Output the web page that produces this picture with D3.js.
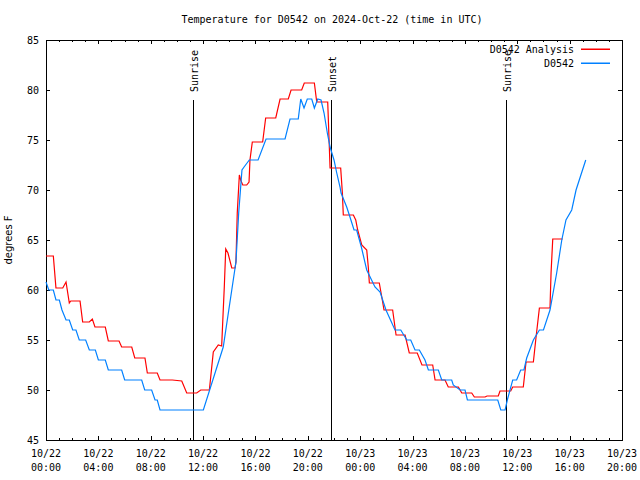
<!DOCTYPE html>
<html><head><meta charset="utf-8">
<script src="https://cdn.jsdelivr.net/npm/d3@7"></script>
<style>
body{margin:0;background:#fff;}
text{font-family:"DejaVu Sans Mono","Liberation Mono",monospace;font-size:10px;fill:#000;}
</style></head>
<body><svg id="c" width="640" height="480"></svg>
<script>
// hours since 2024-10-22 00:00 UTC
const analysisHours = [0,0.56,0.76,1.28,1.53,1.78,1.89,2.60,2.80,3.31,3.54,3.74,4.53,4.76,5.58,5.78,6.55,6.78,7.56,7.74,8.50,8.71,9.65,10.37,10.75,11.51,11.82,12.48,12.78,13.16,13.42,13.54,13.62,13.73,13.90,14.19,14.44,14.51,14.61,14.77,14.87,15.03,15.33,15.51,15.58,15.76,16.55,16.78,17.55,17.88,18.51,18.72,19.53,19.73,20.50,20.68,21.52,21.70,22.51,22.64,22.71,23.48,23.66,23.81,24.12,24.50,24.62,24.70,25.46,25.69,25.82,26.48,26.74,27.43,27.75,28.36,28.72,29.54,29.72,30.48,30.73,31.50,31.76,32.52,32.72,33.54,33.69,34.55,34.68,35.50,35.65,36.46,36.67,37.23,37.41,37.69,38.50,38.58,38.71,39.47];
const analysisTemps = [63.4,63.4,60.2,60.2,60.8,58.7,58.9,58.9,56.8,56.8,57.1,56.3,56.3,54.9,54.9,54.3,54.3,53.2,53.2,51.7,51.7,51.0,51.0,50.9,49.7,49.7,50.0,50.0,53.8,54.5,54.4,58.0,60.3,64.1,63.7,62.2,62.2,62.8,67.7,71.5,71.0,70.5,70.5,70.8,73.0,74.8,74.8,77.2,77.2,79.1,79.1,80.0,80.0,80.7,80.7,78.8,78.8,72.2,72.2,69.7,67.5,67.5,67.0,66.0,64.5,64.0,62.3,60.7,60.7,59.0,58.0,58.0,55.5,55.5,53.7,53.7,52.5,52.5,51.0,51.0,50.3,50.3,49.7,49.7,49.3,49.3,49.4,49.4,49.9,49.9,50.3,50.3,52.8,52.8,55.0,58.2,58.2,61.7,65.1,65.1];

const stationHours = [0,0.21,0.56,0.76,1.02,1.22,1.53,1.78,2.04,2.29,2.54,3.03,3.31,3.77,4.00,4.53,4.76,5.78,6.01,7.31,7.54,8.07,8.33,8.50,8.71,12.02,13.54,14.51,14.72,14.97,15.13,15.53,16.20,16.81,18.26,18.64,19.27,19.46,19.71,19.96,20.30,20.50,20.76,21.01,21.24,21.49,21.70,22.00,22.21,22.46,22.54,22.97,23.22,23.53,23.73,24.09,24.50,25.13,25.52,25.97,26.66,27.10,27.56,27.86,28.19,28.52,28.95,29.21,29.97,30.23,30.99,31.11,31.63,32.01,32.19,34.51,34.74,35.07,35.24,35.65,35.95,36.26,36.51,36.72,37.23,37.69,38.00,38.50,39.01,39.40,39.72,40.16,40.49,41.23];
const stationTemps = [60.8,60.0,60.0,59.0,59.0,58.0,57.0,57.0,56.0,56.0,55.0,55.0,54.0,54.0,53.0,53.0,52.0,52.0,51.0,51.0,50.0,50.0,49.0,49.0,48.0,48.0,54.3,62.8,67.7,72.0,72.3,73.0,73.0,75.1,75.1,77.1,77.1,79.1,78.2,79.1,79.1,78.2,79.1,79.0,77.7,75.7,74.3,73.0,71.7,70.3,69.7,68.3,67.3,66.0,66.0,64.3,62.0,60.3,59.8,58.0,56.0,56.0,55.0,55.0,54.0,54.0,53.0,52.0,52.0,51.0,51.0,50.5,50.0,50.0,49.0,49.0,48.0,48.0,49.0,51.0,51.0,52.0,52.0,53.2,55.0,56.0,56.0,58.0,61.7,65.0,67.0,68.0,70.0,73.0];

const eventHours = [11.23, 21.77, 35.14];
const eventLabels = ["Sunrise", "Sunset", "Sunrise"];
const seriesNames = ["D0542 Analysis", "D0542"];
const seriesColors = ["#ff0000", "#0080ff"];
const yTicks = [45,50,55,60,65,70,75,80,85];
const titleText = "Temperature for D0542 on 2024-Oct-22 (time in UTC)";
const yLabel = "degrees F";

const t0 = Date.UTC(2024, 9, 22, 0, 0);
const toDate = h => new Date(t0 + h * 3600000);

const L = 46, R = 622, T = 40, B = 440;
const svg = d3.select("#c");
const x = d3.scaleUtc().domain([toDate(0), toDate(44)]).range([L, R]);
const y = d3.scaleLinear().domain([45, 85]).range([B, T]);

const g = svg.append("g").attr("shape-rendering", "crispEdges");

// ticks
const major = d3.utcHour.every(4).range(toDate(0), toDate(44.01));
const minor = d3.utcHour.every(1).range(toDate(0), toDate(44.01));
minor.forEach(d => {
  const isMajor = d.getUTCHours() % 4 === 0;
  const len = isMajor ? 4 : 2;
  const xx = Math.round(x(d)) + 0.5;
  g.append("line").attr("x1", xx).attr("x2", xx).attr("y1", B).attr("y2", B - len).attr("stroke", "#000");
  g.append("line").attr("x1", xx).attr("x2", xx).attr("y1", T).attr("y2", T + len).attr("stroke", "#000");
});
yTicks.forEach(v => {
  const yy = Math.round(y(v)) + 0.5;
  g.append("line").attr("x1", L).attr("x2", L + 4).attr("y1", yy).attr("y2", yy).attr("stroke", "#000");
  g.append("line").attr("x1", R).attr("x2", R - 4).attr("y1", yy).attr("y2", yy).attr("stroke", "#000");
  svg.append("text").attr("x", 39).attr("y", y(v) + 4).attr("text-anchor", "end").text(v);
});
const fDay = d3.utcFormat("%m/%d"), fTime = d3.utcFormat("%H:%M");
major.forEach(d => {
  const t = svg.append("text").attr("x", x(d)).attr("y", 457).attr("text-anchor", "middle");
  t.append("tspan").attr("x", x(d)).text(fDay(d));
  t.append("tspan").attr("x", x(d)).attr("dy", 14).text(fTime(d));
});

// event lines
eventHours.forEach((h, i) => {
  const xx = Math.round(x(toDate(h))) + 0.5;
  g.append("line").attr("x1", xx).attr("x2", xx).attr("y1", 100).attr("y2", B).attr("stroke", "#000");
  svg.append("text").attr("transform", `translate(${xx + 4},92) rotate(-90)`).attr("text-anchor", "start").text(eventLabels[i]);
});

// series
const line = d3.line().x(d => x(d[0])).y(d => y(d[1]));
const aData = analysisHours.map((h, i) => [toDate(h), analysisTemps[i]]);
const sData = stationHours.map((h, i) => [toDate(h), stationTemps[i]]);
svg.append("path").datum(aData).attr("d", line).attr("fill", "none").attr("stroke", seriesColors[0]).attr("stroke-width", 1.2);
svg.append("path").datum(sData).attr("d", line).attr("fill", "none").attr("stroke", seriesColors[1]).attr("stroke-width", 1.2);

// border
g.append("rect").attr("x", L + 0.5).attr("y", T + 0.5).attr("width", R - L).attr("height", B - T).attr("fill", "none").attr("stroke", "#000");

// legend
seriesNames.forEach((n, i) => {
  const ly = 49 + i * 14;
  svg.append("text").attr("x", 574).attr("y", ly + 4).attr("text-anchor", "end").text(n);
  svg.append("rect").attr("x", 581).attr("y", ly - 0.5).attr("width", 29).attr("height", 1.5)
    .attr("fill", seriesColors[i]).attr("stroke", "none");
});

// title and y label
svg.append("text").attr("x", 332).attr("y", 23).attr("text-anchor", "middle").text(titleText);
svg.append("text").attr("transform", "translate(12,240) rotate(-90)").attr("text-anchor", "middle")
  .style("font-family", "'DejaVu Sans',sans-serif").text(yLabel);
</script></body></html>
